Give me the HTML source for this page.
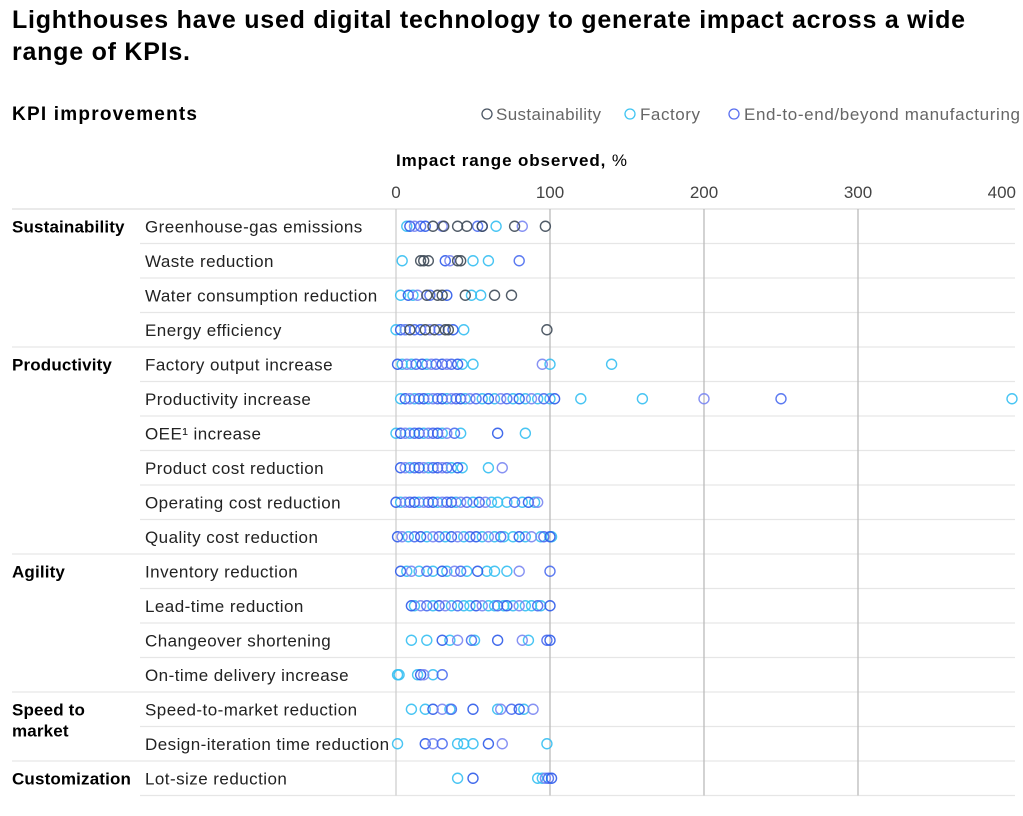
<!DOCTYPE html>
<html><head><meta charset="utf-8">
<style>
html,body{margin:0;padding:0;background:#fff;}
body{width:1023px;height:811px;overflow:hidden;font-family:"Liberation Sans",sans-serif;color:#000;}
svg text{font-family:"Liberation Sans",sans-serif;}
</style></head>
<body>
<svg id="chart" width="1023" height="811" viewBox="0 0 1023 811" xmlns="http://www.w3.org/2000/svg">
<text x="12" y="28" font-size="25" font-weight="bold" textLength="953" lengthAdjust="spacing">Lighthouses have used digital technology to generate impact across a wide</text>
<text x="12" y="60" font-size="25" font-weight="bold" textLength="178" lengthAdjust="spacing">range of KPIs.</text>
<text x="12" y="120" font-size="19" font-weight="bold" textLength="185" lengthAdjust="spacing">KPI improvements</text>
<g>
<g><circle cx="487" cy="114" r="5" fill="none" stroke="#4a5563" stroke-width="1.3"/><text x="496" y="120" font-size="17" fill="#666" textLength="105" lengthAdjust="spacing">Sustainability</text></g>
<g><circle cx="630" cy="114" r="5" fill="none" stroke="#3fc4f2" stroke-width="1.3"/><text x="640" y="120" font-size="17" fill="#666" textLength="60" lengthAdjust="spacing">Factory</text></g>
<g><circle cx="734" cy="114" r="5" fill="none" stroke="#5a6ff0" stroke-width="1.3"/><text x="744" y="120" font-size="17" fill="#666" textLength="276" lengthAdjust="spacing">End-to-end/beyond manufacturing</text></g>
</g>
<text x="396" y="166" font-size="17" textLength="231" lengthAdjust="spacing"><tspan font-weight="bold">Impact range observed,</tspan> %</text>
<g id="grid"></g>
<g id="labels"></g>
<g id="marks"></g>
</svg>
<script>
const rowLabels=["Greenhouse-gas emissions","Waste reduction","Water consumption reduction","Energy efficiency","Factory output increase","Productivity increase","OEE¹ increase","Product cost reduction","Operating cost reduction","Quality cost reduction","Inventory reduction","Lead-time reduction","Changeover shortening","On-time delivery increase","Speed-to-market reduction","Design-iteration time reduction","Lot-size reduction"];
const groupLabels=[["Sustainability"],["Productivity"],["Agility"],["Speed to","market"],["Customization"]];
const groupStarts=[0,4,10,14,16];
const tickValues=[0,100,200,300,400];
const sustainabilityValues=[[24,31,40,46,56,77,97],[16,18,21,40,42],[20,27,30,45,64,75],[9,19,25,32,34,98],[],[],[],[],[],[],[],[],[],[],[],[],[]];
const factoryValues=[[7,65],[4,50,60],[3,11,49,55],[0,6,44],[4,10,20,43,50,100,140],[3,12,21,33,45,56,64,76,84,92,100,120,160,400],[0,9,18,30,42,84],[9,21,36,43,60],[3,15,27,39,50,62,66,72,82,90],[8,20,32,44,56,64,70,76,84,94,101],[7,15,24,33,46,59,64,72],[12,24,36,44,48,60,64,70,76,84,88,94],[10,20,35,51,86],[1,2,14,24],[10,19,35,66,83],[1,40,44,50,98],[40,92,95]];
const e2eValues=[[9,12,16,19,30,53,56,82],[32,35,80],[8,14,22,33],[3,6,12,16,22,28,37],[1,7,13,17,23,26,30,33,36,40,95],[6,9,15,18,24,27,30,36,39,42,48,52,60,68,72,80,88,96,103,200,250],[3,6,12,15,21,24,27,33,38,66],[3,6,12,15,18,24,27,30,33,40,69],[0,6,9,12,18,21,24,30,33,36,42,46,54,58,77,86,92],[1,4,12,16,24,28,36,40,48,52,60,68,80,88,96,100],[3,10,20,30,38,42,53,80,100],[10,16,20,28,32,40,52,56,66,72,80,92,100],[30,40,49,66,82,98,100],[16,18,30],[24,30,36,50,68,75,80,89],[19,24,30,60,69],[50,97,99,101]];
const NS="http://www.w3.org/2000/svg";
const x0=396,pxPer=1.54,rowTop=209,rowH=34.5;
const xScale=v=>x0+v*pxPer;
const yCenter=i=>rowTop+rowH*(i+0.5);
function mk(tag,attrs,parent){const e=document.createElementNS(NS,tag);for(const k in attrs)e.setAttribute(k,attrs[k]);parent.appendChild(e);return e;}
const grid=document.getElementById('grid'),labels=document.getElementById('labels'),marks=document.getElementById('marks');
mk('line',{x1:12,x2:1015,y1:rowTop,y2:rowTop,stroke:'#ddd','stroke-width':1.2},grid);
for(let i=1;i<=rowLabels.length;i++){
  const y=rowTop+rowH*i;
  const isGroup=groupStarts.includes(i);
  const l=mk('line',{x1:isGroup?12:140,x2:1015,y1:y,y2:y,stroke:'#e6e6e6','stroke-width':1.2},grid);
  
  
}
const bottom=rowTop+rowH*rowLabels.length;
tickValues.forEach(v=>{
  const x=xScale(v);
  if(v>0&&v<400){const g=mk('line',{x1:x,x2:x,y1:rowTop,y2:bottom,stroke:'#bbb','stroke-width':1.3},grid);
  
  }
  const t=mk('text',{x:v===400?x+4:x,y:198,'font-size':17,fill:'#444','text-anchor':v===400?'end':'middle'},labels);
  t.textContent=v;
  
  
});
const ax=mk('line',{x1:x0,x2:x0,y1:rowTop,y2:bottom,stroke:'#ccc','stroke-width':1.2},grid);


rowLabels.forEach((lab,i)=>{
  const t=mk('text',{x:145,y:yCenter(i)+6,'font-size':17,fill:'#222','letter-spacing':0.45},labels);
  t.textContent=lab;
  
  
});
groupLabels.forEach((lines,gi)=>{
  const i=groupStarts[gi];
  lines.forEach((ln,k)=>{
    const t=mk('text',{x:12,y:yCenter(i)+6+k*21,'font-size':17,'font-weight':'bold','letter-spacing':0.15},labels);
    t.textContent=ln;
    
    
  });
});
function dots(arr,colorFn,name){
  arr.forEach((vals,i)=>vals.forEach((v,j)=>{
    const c=mk('circle',{cx:xScale(v),cy:yCenter(i),r:5,fill:'none',stroke:colorFn(j),'stroke-width':1.4,'stroke-opacity':0.9},marks);
    
    
  }));
}
dots(factoryValues,()=>'#35bff2','dot-factory');
dots(e2eValues,j=>['#2d5bea','#7a86f2','#4a6cf0'][j%3],'dot-end-to-end');
dots(sustainabilityValues,()=>'#3e4a58','dot-sustainability');
</script>
</body></html>
